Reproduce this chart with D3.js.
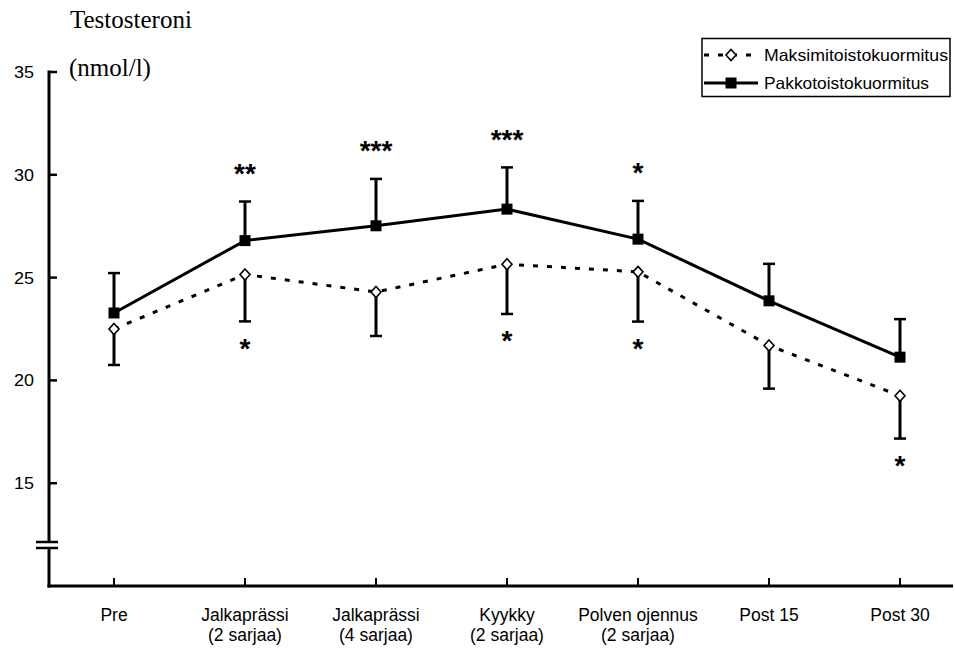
<!DOCTYPE html>
<html>
<head>
<meta charset="utf-8">
<script src="https://cdn.jsdelivr.net/npm/d3@7"></script>
<style>
  html, body { margin: 0; padding: 0; background: #fff; }
  svg { display: block; }
</style>
</head>
<body>
<svg id="chart" width="955" height="649"></svg>
<script>
// Measurement points (two-line labels split on "\n")
const categories = ["Pre", "Jalkaprässi\n(2 sarjaa)", "Jalkaprässi\n(4 sarjaa)", "Kyykky\n(2 sarjaa)", "Polven ojennus\n(2 sarjaa)", "Post 15", "Post 30"];

// Maksimitoistokuormitus: mean and SD (nmol/l)
const maksMean = [22.5, 25.15, 24.3, 25.65, 25.28, 21.7, 19.25];
const maksSD   = [1.75, 2.28, 2.14, 2.42, 2.42, 2.1, 2.08];
const maksSig  = ["", "*", "", "*", "*", "", "*"];

// Pakkotoistokuormitus: mean and SD (nmol/l)
const pakkoMean = [23.28, 26.8, 27.52, 28.33, 26.87, 23.87, 21.13];
const pakkoSD   = [1.94, 1.9, 2.28, 2.03, 1.86, 1.8, 1.85];
const pakkoSig  = ["", "**", "***", "***", "*", "", ""];

const yTicks = [15, 20, 25, 30, 35];
const seriesNames = ["Maksimitoistokuormitus", "Pakkotoistokuormitus"];
const axisTitle = ["Testosteroni", "(nmol/l)"];

const svg = d3.select("#chart");
const sans = "Liberation Sans, Arial, sans-serif";
const serif = "Liberation Serif, Times New Roman, serif";

const x = d3.scalePoint().domain(categories).range([114, 900]);
const y = d3.scaleLinear().domain([10, 35]).range([586, 72]);

// Axis title (two lines, serif)
svg.append("text").attr("x", 70).attr("y", 28)
  .attr("font-family", serif).attr("font-size", 25).text(axisTitle[0]);
svg.append("text").attr("x", 69).attr("y", 76)
  .attr("font-family", serif).attr("font-size", 25).text(axisTitle[1]);

// Y axis with a break near the bottom
const yAxisX = 49;
const breakTop = 542, breakBot = 548;
const axisG = svg.append("g").attr("stroke", "#000").attr("fill", "none");
axisG.append("line").attr("x1", yAxisX).attr("x2", yAxisX)
  .attr("y1", y(35) - 1.5).attr("y2", breakTop).attr("stroke-width", 3);
axisG.append("line").attr("x1", yAxisX).attr("x2", yAxisX)
  .attr("y1", breakBot).attr("y2", y(10) + 1.5).attr("stroke-width", 3);
[breakTop, breakBot].forEach(b => {
  axisG.append("line").attr("x1", 36).attr("x2", 58)
    .attr("y1", b).attr("y2", b).attr("stroke-width", 2.5);
});

// Y ticks (pointing inward) and labels
yTicks.forEach(t => {
  axisG.append("line").attr("x1", yAxisX).attr("x2", yAxisX + 8)
    .attr("y1", y(t)).attr("y2", y(t)).attr("stroke-width", 2.5);
  svg.append("text").attr("x", 34).attr("y", y(t) + 6)
    .attr("text-anchor", "end").attr("font-family", sans).attr("font-size", 16.5)
    .attr("textLength", 20).attr("lengthAdjust", "spacingAndGlyphs")
    .text(t);
});

// X axis
axisG.append("line").attr("x1", yAxisX - 1.5).attr("x2", 953)
  .attr("y1", y(10)).attr("y2", y(10)).attr("stroke-width", 3);
categories.forEach(c => {
  axisG.append("line").attr("x1", x(c)).attr("x2", x(c))
    .attr("y1", y(10)).attr("y2", y(10) - 8).attr("stroke-width", 2);
  const lines = c.split("\n");
  lines.forEach((ln, i) => {
    svg.append("text").attr("x", x(c)).attr("y", 621 + i * 20)
      .attr("text-anchor", "middle").attr("font-family", sans).attr("font-size", 17.5)
      .text(ln);
  });
});

const maksData = categories.map((c, i) => ({c, m: maksMean[i], sd: maksSD[i], sig: maksSig[i]}));
const pakkoData = categories.map((c, i) => ({c, m: pakkoMean[i], sd: pakkoSD[i], sig: pakkoSig[i]}));

const line = d3.line().x(d => x(d.c)).y(d => y(d.m));

// Series lines
svg.append("path").datum(maksData).attr("d", line)
  .attr("fill", "none").attr("stroke", "#000").attr("stroke-width", 3)
  .attr("stroke-dasharray", "5,9");
svg.append("path").datum(pakkoData).attr("d", line)
  .attr("fill", "none").attr("stroke", "#000").attr("stroke-width", 3);

// Error bars: Maks downward, Pakko upward
function errorBars(data, dir) {
  const g = svg.append("g").attr("stroke", "#000");
  data.forEach(d => {
    const end = y(d.m + dir * d.sd);
    g.append("line").attr("x1", x(d.c)).attr("x2", x(d.c))
      .attr("y1", y(d.m)).attr("y2", end).attr("stroke-width", 3);
    g.append("line").attr("x1", x(d.c) - 6).attr("x2", x(d.c) + 6)
      .attr("y1", end).attr("y2", end).attr("stroke-width", 2.5);
  });
}
errorBars(maksData, -1);
errorBars(pakkoData, 1);

// Markers
const diamond = "M0,-5.5L5,0L0,5.5L-5,0Z";
svg.append("g").selectAll("path").data(maksData).join("path")
  .attr("d", diamond)
  .attr("transform", d => `translate(${x(d.c)},${y(d.m)})`)
  .attr("fill", "#fff").attr("stroke", "#000").attr("stroke-width", 1.6);
svg.append("g").selectAll("rect").data(pakkoData).join("rect")
  .attr("x", d => x(d.c) - 5.5).attr("y", d => y(d.m) - 5.5)
  .attr("width", 11).attr("height", 11).attr("fill", "#000");

// Significance stars
const starSize = 28;
svg.append("g").selectAll("text").data(pakkoData.filter(d => d.sig)).join("text")
  .attr("x", d => x(d.c)).attr("y", d => y(d.m + d.sd) - 35 + starSize * 0.58)
  .attr("text-anchor", "middle").attr("font-family", sans).attr("font-weight", "bold")
  .attr("font-size", starSize).text(d => d.sig);
svg.append("g").selectAll("text").data(maksData.filter(d => d.sig)).join("text")
  .attr("x", d => x(d.c)).attr("y", d => y(d.m - d.sd) + 20 + starSize * 0.58)
  .attr("text-anchor", "middle").attr("font-family", sans).attr("font-weight", "bold")
  .attr("font-size", starSize).text(d => d.sig);

// Legend
const lg = svg.append("g");
lg.append("rect").attr("x", 702).attr("y", 38.5).attr("width", 248).attr("height", 58)
  .attr("fill", "#fff").attr("stroke", "#000").attr("stroke-width", 1.5);
lg.append("line").attr("x1", 704).attr("x2", 758).attr("y1", 55).attr("y2", 55)
  .attr("stroke", "#000").attr("stroke-width", 3).attr("stroke-dasharray", "5,9");
lg.append("path").attr("d", diamond).attr("transform", "translate(731,55)")
  .attr("fill", "#fff").attr("stroke", "#000").attr("stroke-width", 1.6);
lg.append("line").attr("x1", 704).attr("x2", 758).attr("y1", 83).attr("y2", 83)
  .attr("stroke", "#000").attr("stroke-width", 3);
lg.append("rect").attr("x", 725.5).attr("y", 77.5).attr("width", 11).attr("height", 11).attr("fill", "#000");
lg.append("text").attr("x", 764).attr("y", 60.5).attr("font-family", sans).attr("font-size", 16.5)
  .attr("textLength", 184).attr("lengthAdjust", "spacingAndGlyphs").text(seriesNames[0]);
lg.append("text").attr("x", 764).attr("y", 88.5).attr("font-family", sans).attr("font-size", 16.5)
  .attr("textLength", 165).attr("lengthAdjust", "spacingAndGlyphs").text(seriesNames[1]);
</script>
</body>
</html>
